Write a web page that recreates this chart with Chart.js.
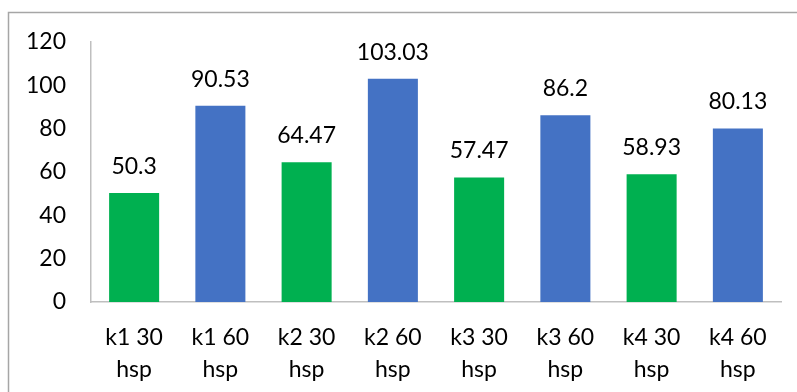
<!DOCTYPE html>
<html>
<head>
<meta charset="utf-8">
<script src="https://cdn.jsdelivr.net/npm/chart.js@4/dist/chart.umd.min.js"></script>
<style>
  html, body { margin: 0; padding: 0; background: #fff; }
  #wrap { width: 797px; height: 392px; position: relative; }
</style>
</head>
<body>
<div id="wrap"><canvas id="c" width="797" height="392"></canvas></div>
<script>
// Mean values per group
const categories = [
  ['k1 30', 'hsp'], ['k1 60', 'hsp'], ['k2 30', 'hsp'], ['k2 60', 'hsp'],
  ['k3 30', 'hsp'], ['k3 60', 'hsp'], ['k4 30', 'hsp'], ['k4 60', 'hsp']
];
const values = [50.3, 90.53, 64.47, 103.03, 57.47, 86.2, 58.93, 80.13];
const valueLabels = ['50.3', '90.53', '64.47', '103.03', '57.47', '86.2', '58.93', '80.13'];
const yTicks = [0, 20, 40, 60, 80, 100, 120];

const GREEN = '#00b050';
const BLUE = '#4472c4';
const barColors = values.map((v, i) => (i % 2 === 0 ? GREEN : BLUE));
const FONT = 'Lato, "Open Sans", sans-serif';

// Frame line along the top and left of the chart box
const framePlugin = {
  id: 'frame',
  beforeDraw(chart) {
    const ctx = chart.ctx;
    ctx.save();
    ctx.strokeStyle = '#a6a6a6';
    ctx.lineWidth = 1.5;
    ctx.beginPath();
    ctx.moveTo(chart.width, 12.5);
    ctx.lineTo(8.5, 12.5);
    ctx.lineTo(8.5, chart.height);
    ctx.stroke();
    ctx.restore();
  }
};

// Value labels above each bar
const valueLabelPlugin = {
  id: 'valueLabels',
  afterDatasetsDraw(chart) {
    const ctx = chart.ctx;
    const meta = chart.getDatasetMeta(0);
    ctx.save();
    ctx.font = '23px ' + FONT;
    ctx.fillStyle = '#000';
    ctx.textAlign = 'center';
    ctx.textBaseline = 'alphabetic';
    meta.data.forEach((bar, i) => {
      ctx.fillText(valueLabels[i], bar.x, bar.y - 19);
    });
    ctx.restore();
  }
};

new Chart(document.getElementById('c'), {
  type: 'bar',
  data: {
    labels: categories,
    datasets: [{
      data: values,
      backgroundColor: barColors,
      borderWidth: 0,
      categoryPercentage: 1,
      barPercentage: 0.58
    }]
  },
  options: {
    responsive: false,
    animation: false,
    devicePixelRatio: 1,
    layout: { padding: { left: 0, top: 42, right: 16, bottom: 0 } },
    plugins: {
      legend: { display: false },
      tooltip: { enabled: false }
    },
    scales: {
      x: {
        grid: { display: false, drawTicks: false },
        border: { display: true, color: '#bfbfbf', width: 1.5 },
        ticks: {
          color: '#000',
          font: { family: FONT, size: 23, lineHeight: 1.4 },
          padding: 19,
          maxRotation: 0,
          autoSkip: false
        },
        afterFit(scale) { scale.height = 90; }
      },
      y: {
        min: 0,
        max: 120,
        grid: { display: false, drawTicks: false },
        border: { display: true, color: '#bfbfbf', width: 1.5 },
        afterBuildTicks(scale) { scale.ticks = yTicks.map(v => ({ value: v })); },
        ticks: {
          color: '#000',
          font: { family: FONT, size: 23 },
          padding: 25
        },
        afterFit(scale) { scale.width = 91; }
      }
    }
  },
  plugins: [framePlugin, valueLabelPlugin]
});
</script>
</body>
</html>
